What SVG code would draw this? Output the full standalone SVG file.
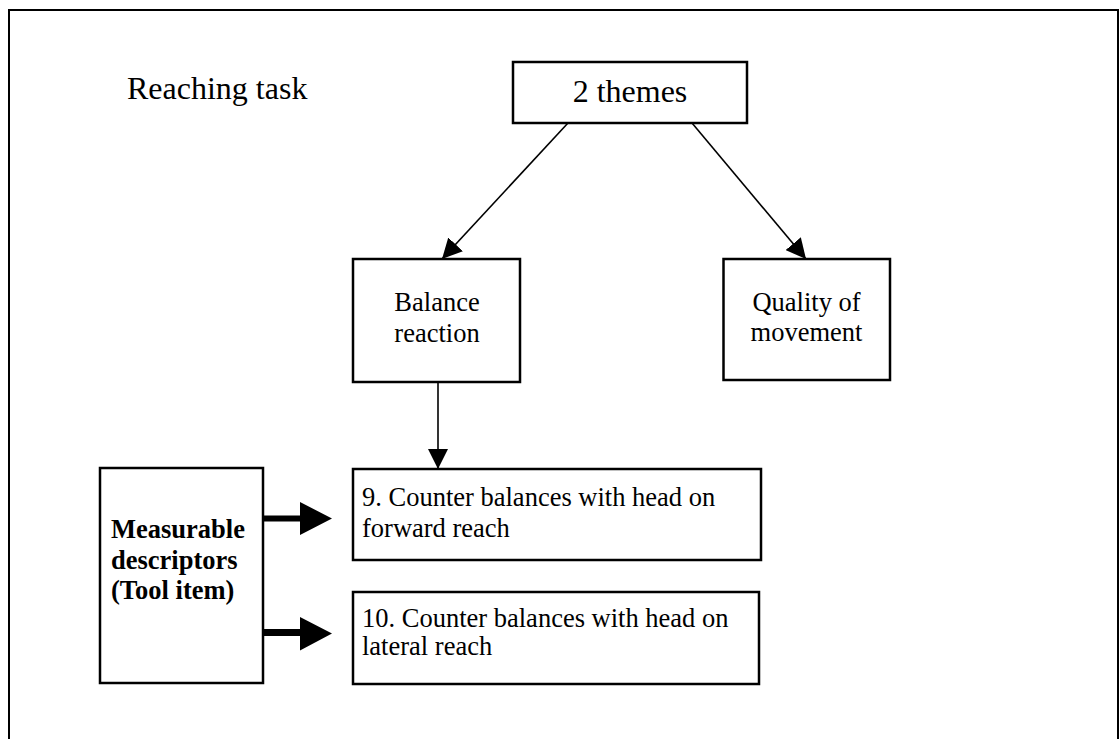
<svg xmlns="http://www.w3.org/2000/svg" width="1120" height="739" viewBox="0 0 1120 739">
  <style>
    .box { fill: #fff; stroke: #000; stroke-width: 2.5; }
    .frame { fill: none; stroke: #000; stroke-width: 2; }
    .txt { font-family: "Liberation Serif", "Times New Roman", serif; fill: #000; }
    .big { font-size: 32px; }
    .mid { font-size: 26.5px; }
    .bold { font-weight: bold; }
    .link { stroke: #000; stroke-width: 1.6; fill: none; marker-end: url(#head); }
    .block { fill: #000; stroke: none; }
  </style>
  <defs>
    <marker id="head" markerUnits="userSpaceOnUse" markerWidth="20" markerHeight="20" viewBox="0 0 20 20" refX="20" refY="10" orient="auto">
      <path d="M0,0 L20,10 L0,20 Z" fill="#000"/>
    </marker>
  </defs>

  <rect width="1120" height="739" fill="#fff"/>
  <!-- outer frame, open at the bottom -->
  <path class="frame" d="M9,745 L9,10 L1118,10 L1118,745"/>

  <text class="txt big" x="127" y="99">Reaching task</text>

  <g id="themes">
    <rect class="box" x="513" y="62" width="234" height="61"/>
    <text class="txt big" x="630" y="101.5" text-anchor="middle">2 themes</text>
  </g>

  <g id="balance">
    <rect class="box" x="353" y="259" width="167" height="123"/>
    <text class="txt mid" x="437" y="311" text-anchor="middle">Balance</text>
    <text class="txt mid" x="437" y="341.5" text-anchor="middle">reaction</text>
  </g>

  <g id="quality">
    <rect class="box" x="723.5" y="259" width="166.5" height="121"/>
    <text class="txt mid" x="806.5" y="311" text-anchor="middle">Quality of</text>
    <text class="txt mid" x="806.5" y="341" text-anchor="middle">movement</text>
  </g>

  <g id="descriptors">
    <rect class="box" x="100" y="468" width="163" height="215"/>
    <text class="txt mid bold" x="111" y="538">Measurable</text>
    <text class="txt mid bold" x="111" y="569">descriptors</text>
    <text class="txt mid bold" x="111" y="599">(Tool item)</text>
  </g>

  <g id="item9">
    <rect class="box" x="353" y="469" width="408" height="91"/>
    <text class="txt mid" x="362" y="506">9. Counter balances with head on</text>
    <text class="txt mid" x="362" y="536.5">forward reach</text>
  </g>

  <g id="item10">
    <rect class="box" x="353" y="592" width="406" height="92"/>
    <text class="txt mid" x="362" y="627">10. Counter balances with head on</text>
    <text class="txt mid" x="362" y="655">lateral reach</text>
  </g>

  <g id="connectors">
    <line class="link" x1="568" y1="123" x2="442" y2="259"/>
    <line class="link" x1="692" y1="123" x2="806" y2="259"/>
    <line class="link" x1="438" y1="382" x2="438" y2="469"/>
    <polygon class="block" points="263,515.5 300,515.5 300,502 332,518.5 300,535 300,521.5 263,521.5"/>
    <polygon class="block" points="263,629 300,629 300,617 332,633.5 300,650.5 300,636 263,636"/>
  </g>
</svg>
